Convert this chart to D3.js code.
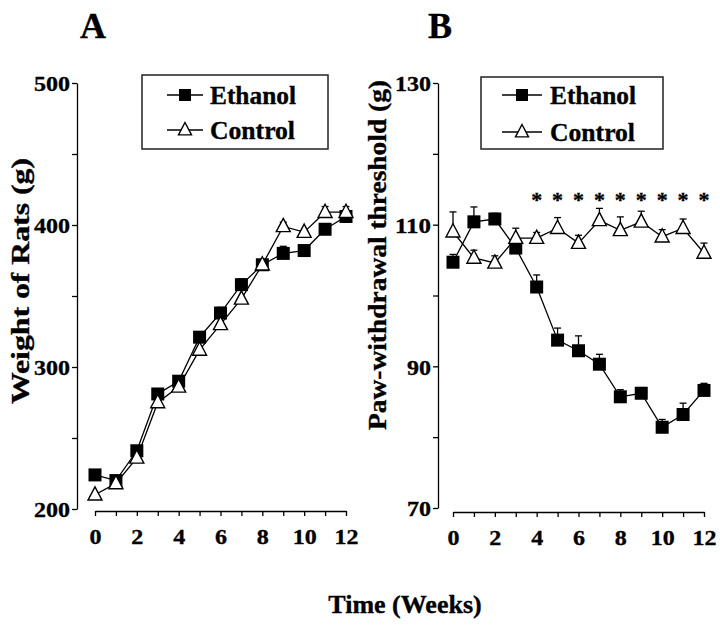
<!DOCTYPE html>
<html>
<head>
<meta charset="utf-8">
<script src="https://cdn.jsdelivr.net/npm/d3@7"></script>
<style>
  html, body { margin: 0; padding: 0; background: #fff; }
</style>
</head>
<body>
<svg id="chart" width="720" height="626"></svg>
<script>
// ---------- DATA ----------
const weeks = [0,1,2,3,4,5,6,7,8,9,10,11,12];

// Panel A: Weight of Rats (g)
const weightEthanol    = [224, 220, 241, 281, 290, 321, 338, 358, 372, 380, 382, 397, 406];
const weightEthanolErr = [0, 0, 0, 0, 0, 0, 4, 4, 3, 5, 3, 0, 0];
const weightControl    = [210, 218, 236, 275, 286, 312, 330, 348, 372, 399, 395, 409, 409];
const weightControlErr = [0, 0, 0, 0, 0, 0, 0, 0, 0, 3, 0, 4, 4];

// Panel B: Paw-withdrawal threshold (g)
const pawEthanol    = [104.7, 110.4, 110.8, 106.7, 101.2, 93.7, 92.2, 90.3, 85.7, 86.2, 81.4, 83.2, 86.6];
const pawEthanolErr = [1.1, 2.1, 0.8, 0.7, 1.7, 1.7, 2.1, 1.4, 1.0, 0.8, 1.1, 1.6, 1.0];
const pawControl    = [109.0, 105.3, 104.6, 108.1, 108.1, 109.5, 107.4, 110.6, 109.2, 110.4, 108.3, 109.5, 106.0];
const pawControlErr = [2.8, 1.1, 1.0, 1.4, 0.8, 1.5, 1.1, 1.7, 1.9, 1.5, 1.0, 1.3, 1.4];

// significance markers (panel B)
const sigWeeks = [4,5,6,7,8,9,10,11,12];
const sigLevel = 114;

// axis ticks
const xTickLabels = [0,2,4,6,8,10,12];
const weightTicks = [200,250,300,350,400,450,500];
const weightLabels = [200,300,400,500];
const pawTicks = [70,80,90,100,110,120,130];
const pawLabels = [70,90,110,130];

const seriesNames = ["Ethanol", "Control"];

// ---------- DRAW ----------
const FONT = "'Liberation Serif', 'Times New Roman', Times, serif";
const svg = d3.select("#chart");

function panel(cfg) {
  const g = svg.append("g");
  const x = d3.scaleLinear().domain([0,12]).range(cfg.xRange);
  const y = d3.scaleLinear().domain(cfg.yDomain).range(cfg.yRange);

  // Y axis
  const yAxis = d3.axisLeft(y).tickValues(cfg.yTicks).tickSize(5).tickSizeOuter(0)
    .tickFormat(d => cfg.yLabels.includes(d) ? d : "");
  const ya = g.append("g").attr("transform", `translate(${cfg.yAxisX},0)`).call(yAxis);
  ya.attr("font-family", null).attr("font-size", null);
  ya.select(".domain").attr("stroke", "#000").attr("stroke-width", 1.3);
  ya.selectAll(".tick line").attr("stroke", "#000").attr("stroke-width", 1.3);
  ya.selectAll(".tick text").attr("font-size", 22).attr("x", -7).attr("dy", "0.36em")
    .attr("textLength", d => cfg.yLabels.includes(d) ? String(d).length * 12 : null)
    .attr("lengthAdjust", "spacingAndGlyphs");

  // X axis
  const xAxis = d3.axisBottom(x).tickValues(weeks).tickSize(5).tickSizeOuter(0)
    .tickFormat(d => xTickLabels.includes(d) ? d : "");
  const xa = g.append("g").attr("transform", `translate(0,${cfg.xAxisY})`).call(xAxis);
  xa.attr("font-family", null).attr("font-size", null);
  xa.select(".domain").attr("stroke", "#000").attr("stroke-width", 1.3);
  xa.selectAll(".tick line").attr("stroke", "#000").attr("stroke-width", 1.3);
  xa.selectAll(".tick text").attr("font-size", 22).attr("y", 17).attr("dy", "0.71em")
    .attr("textLength", d => xTickLabels.includes(d) ? String(d).length * 12 : null)
    .attr("lengthAdjust", "spacingAndGlyphs");

  // Y title
  g.append("text")
    .attr("transform", `translate(${cfg.titleX},${cfg.titleY}) rotate(-90)`)
    .attr("text-anchor", "middle")
    .attr("font-size", 25)
    .attr("textLength", cfg.titleLen)
    .attr("lengthAdjust", "spacingAndGlyphs")
    .text(cfg.title);

  // Panel letter
  g.append("text").attr("x", cfg.letterX).attr("y", 38).attr("font-size", 36)
    .attr("text-anchor", "middle").text(cfg.letter);

  const line = d3.line().x((d,i) => x(weeks[i])).y(d => y(d));

  function errBars(vals, errs) {
    const eb = g.append("g").attr("stroke", "#000").attr("stroke-width", 1.3);
    vals.forEach((v,i) => {
      if (!errs[i]) return;
      const xx = x(weeks[i]);
      eb.append("line").attr("x1", xx).attr("x2", xx).attr("y1", y(v)).attr("y2", y(v + errs[i]));
      eb.append("line").attr("x1", xx-3.5).attr("x2", xx+3.5).attr("y1", y(v + errs[i])).attr("y2", y(v + errs[i]));
    });
  }

  // Lines
  g.append("path").datum(cfg.eth).attr("d", line).attr("fill", "none").attr("stroke", "#000").attr("stroke-width", 1.3);
  g.append("path").datum(cfg.ctl).attr("d", line).attr("fill", "none").attr("stroke", "#000").attr("stroke-width", 1.3);

  errBars(cfg.eth, cfg.ethErr);
  // Ethanol squares
  g.selectAll(".sq").data(cfg.eth).enter().append("rect")
    .attr("x", (d,i) => x(weeks[i]) - 6.5).attr("y", d => y(d) - 6.5)
    .attr("width", 13).attr("height", 13).attr("fill", "#000");

  errBars(cfg.ctl, cfg.ctlErr);
  // Control triangles
  g.selectAll(".tri").data(cfg.ctl).enter().append("path")
    .attr("d", (d,i) => triPath(x(weeks[i]), y(d), 7))
    .attr("fill", "#fff").attr("stroke", "#000").attr("stroke-width", 1.4);

  // Legend
  const L = cfg.legend;
  g.append("rect").attr("x", L.x).attr("y", L.y).attr("width", L.w).attr("height", L.h)
    .attr("fill", "#fff").attr("stroke", "#222").attr("stroke-width", 1.5);
  L.rows.forEach((ry, k) => {
    g.append("line").attr("x1", L.lx1).attr("x2", L.lx2).attr("y1", ry).attr("y2", ry)
      .attr("stroke", "#000").attr("stroke-width", 1.3);
    const mx = (L.lx1 + L.lx2) / 2;
    if (k === 0) {
      g.append("rect").attr("x", mx - 6).attr("y", ry - 6).attr("width", 12).attr("height", 12).attr("fill", "#000");
    } else {
      g.append("path").attr("d", triPath(mx, ry, 6.5)).attr("fill", "#fff").attr("stroke", "#000").attr("stroke-width", 1.4);
    }
    g.append("text").attr("x", L.tx).attr("y", ry + 8.5).attr("font-size", 25)
      .attr("textLength", L.tl[k]).attr("lengthAdjust", "spacingAndGlyphs").text(seriesNames[k]);
  });

  return {g, x, y};
}

function triPath(cx, cy, r) {
  return `M${cx},${cy - r - 1}L${cx + r},${cy + r * 0.75}L${cx - r},${cy + r * 0.75}Z`;
}

panel({
  xRange: [95, 346], yDomain: [200, 500], yRange: [509, 83],
  yAxisX: 77, xAxisY: 511,
  yTicks: weightTicks, yLabels: weightLabels,
  title: "Weight of Rats (g)", titleX: 29, titleY: 281, titleLen: 246,
  letter: "A", letterX: 93,
  eth: weightEthanol, ethErr: weightEthanolErr, ctl: weightControl, ctlErr: weightControlErr,
  legend: {x: 142, y: 75, w: 186, h: 74, rows: [95, 130], lx1: 167, lx2: 203, tx: 210, tl: [86, 85]}
});

const B = panel({
  xRange: [453, 704], yDomain: [70, 130], yRange: [508, 83],
  yAxisX: 438, xAxisY: 512,
  yTicks: pawTicks, yLabels: pawLabels,
  title: "Paw-withdrawal threshold (g)", titleX: 386, titleY: 255, titleLen: 350,
  letter: "B", letterX: 440,
  eth: pawEthanol, ethErr: pawEthanolErr, ctl: pawControl, ctlErr: pawControlErr,
  legend: {x: 481, y: 77, w: 182, h: 72, rows: [95, 132], lx1: 502, lx2: 542, tx: 550, tl: [86, 85]}
});

// significance asterisks
B.g.selectAll(".ast").data(sigWeeks).enter().append("text")
  .attr("x", d => B.x(d)).attr("y", B.y(sigLevel) + 11)
  .attr("text-anchor", "middle").attr("font-size", 22).text("*");

// X title
svg.append("text").attr("x", 405).attr("y", 613).attr("text-anchor", "middle")
  .attr("font-size", 26).text("Time (Weeks)");

// fonts for every text (slight stroke to match the heavy print)
svg.selectAll("text").attr("font-family", FONT).attr("font-weight", "bold").attr("fill", "#000")
  .attr("stroke", "#000").attr("stroke-width", 0.35)
  .style("font-family", FONT).style("font-weight", "bold");
</script>
</body>
</html>
